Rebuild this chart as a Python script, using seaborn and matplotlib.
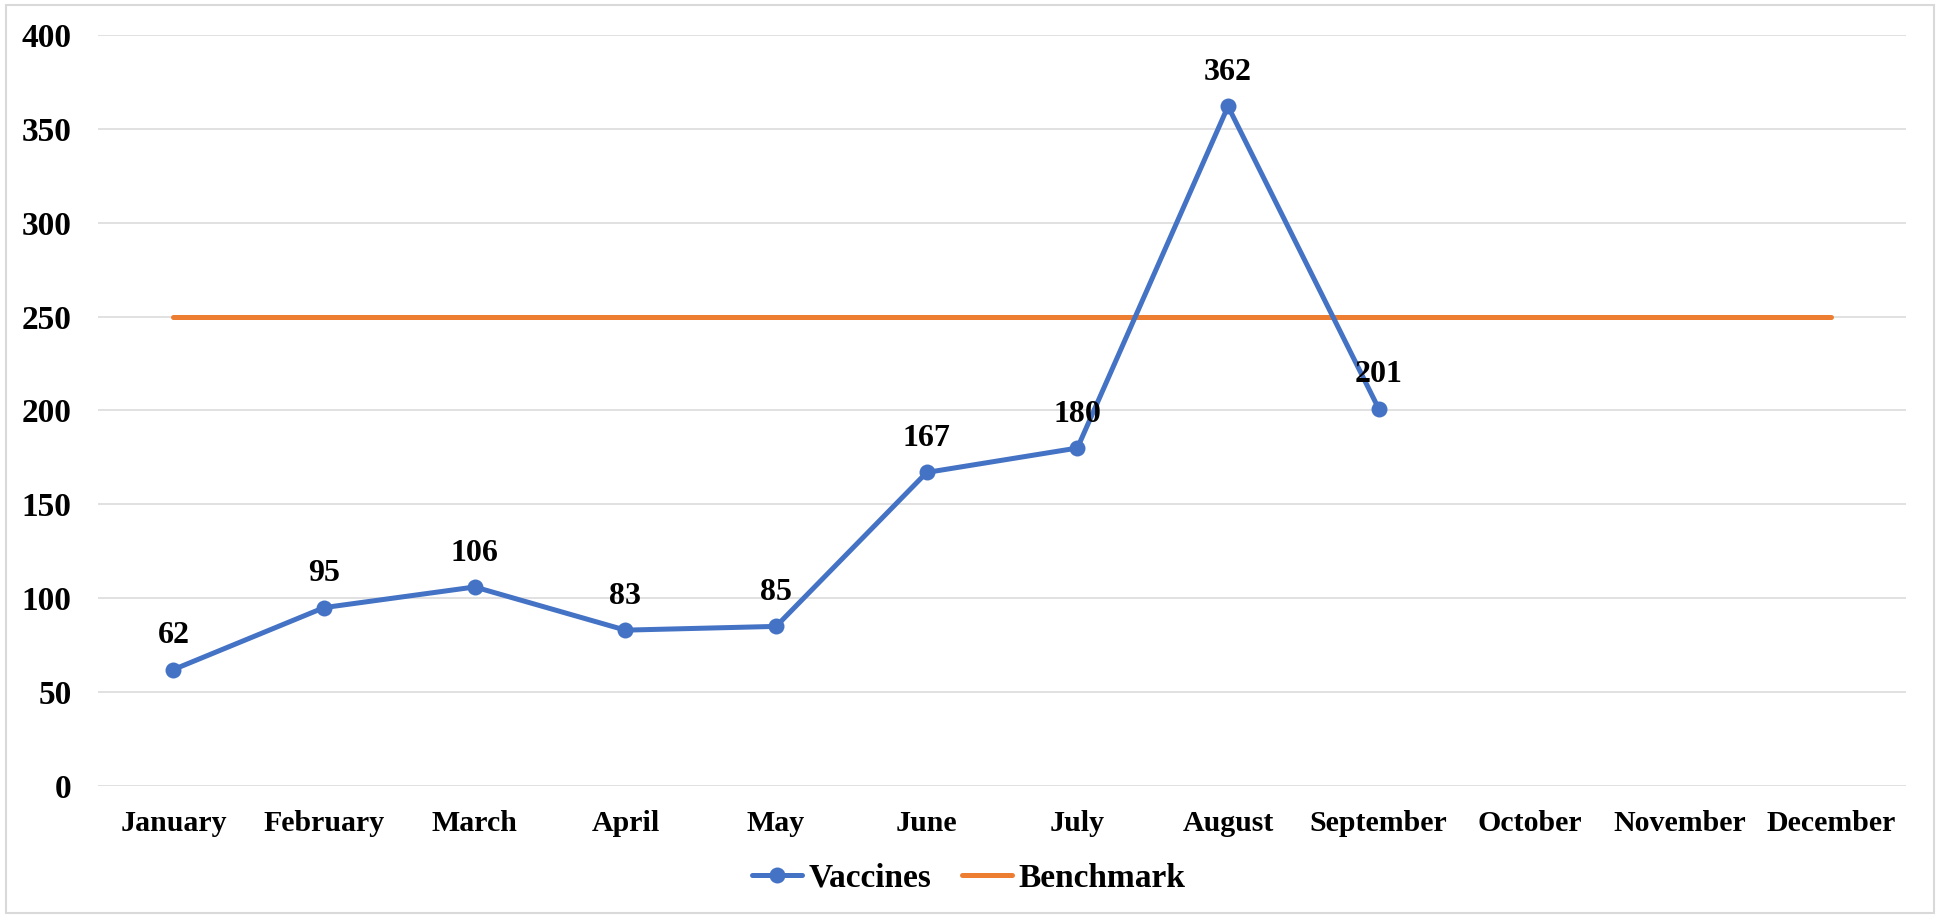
import numpy as np
import pandas as pd
import matplotlib
matplotlib.use("Agg")
import matplotlib.pyplot as plt
import seaborn as sns
from matplotlib.patches import Rectangle

# data
months = ["January", "February", "March", "April", "May", "June",
          "July", "August", "September", "October", "November", "December"]
vaccines = [62, 95, 106, 83, 85, 167, 180, 362, 201, np.nan, np.nan, np.nan]
benchmark = [250] * 12
y_ticks = [0, 50, 100, 150, 200, 250, 300, 350, 400]

blue = "#4472C4"
orange = "#ED7D31"
grid_col = "#D9D9D9"

sns.set_theme(style="white")
plt.rcParams["font.family"] = ["Liberation Serif", "DejaVu Serif"]
plt.rcParams["font.weight"] = "bold"
plt.rcParams["text.color"] = "black"
plt.rcParams["xtick.color"] = "black"
plt.rcParams["ytick.color"] = "black"

df = pd.DataFrame({"pos": np.arange(len(months)), "Month": months,
                   "Vaccines": vaccines, "Benchmark": benchmark})

fig = plt.figure(figsize=(19.38, 9.17), dpi=100)
ax = fig.add_axes([0.0506, 0.1429, 0.9329, 0.8189])

sns.lineplot(data=df, x="pos", y="Vaccines", ax=ax, color=blue, linewidth=3.6,
             marker="o", markersize=11.5, markeredgewidth=0, label="Vaccines", zorder=3)
sns.lineplot(data=df, x="pos", y="Benchmark", ax=ax, color=orange, linewidth=3.6,
             label="Benchmark", zorder=2)

# data labels above the vaccine points
for i, v in enumerate(vaccines):
    if np.isnan(v):
        continue
    ax.annotate(f"{int(v)}", (i, v), xytext=(0, 19), textcoords="offset points",
                ha="center", va="baseline", fontsize=23, fontweight="bold", color="black")

ax.set_xlim(-0.5, len(months) - 0.5)
ax.set_ylim(0, 400)
ax.set_xticks(df["pos"])
ax.set_xticklabels(months, fontsize=21.5, fontweight="bold", color="black")
ax.set_yticks(y_ticks)
ax.set_yticklabels([str(t) for t in y_ticks], fontsize=24, fontweight="bold", color="black")
ax.tick_params(axis="x", length=0, pad=17)
ax.tick_params(axis="y", length=0, pad=19)
ax.yaxis.grid(True, color=grid_col, linewidth=1.1)
ax.set_axisbelow(True)
for s in ax.spines.values():
    s.set_visible(False)
ax.set_xlabel("")
ax.set_ylabel("")

ax.get_legend().remove()
handles, labels = ax.get_legend_handles_labels()
leg = fig.legend(handles, labels, loc="center", bbox_to_anchor=(0.5, 0.0425), ncol=2,
                 frameon=False, handlelength=1.5, handletextpad=0.2,
                 columnspacing=0.9, prop={"weight": "bold", "size": 24})
for t in leg.get_texts():
    t.set_color("black")

# light frame around the whole chart
fig.patches.append(Rectangle((0.003, 0.004), 0.995, 0.991, transform=fig.transFigure,
                             fill=False, edgecolor=grid_col, linewidth=1.5))

fig.savefig("out.png", dpi=100, facecolor="white")
